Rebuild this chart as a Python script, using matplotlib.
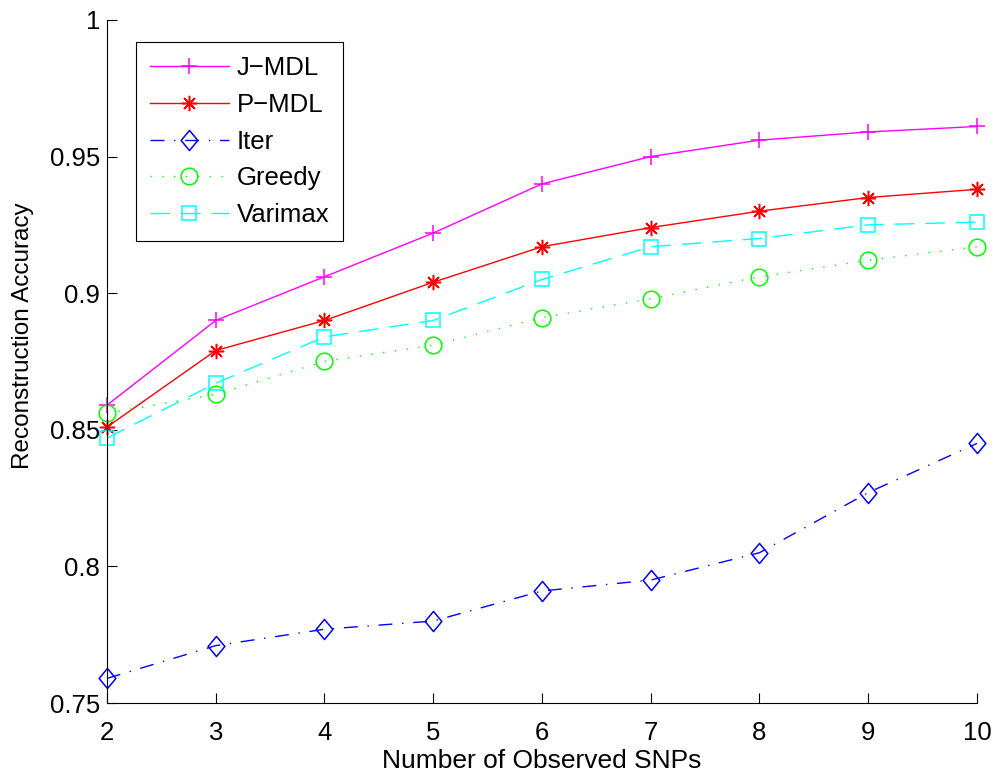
import matplotlib
matplotlib.use("Agg")
import matplotlib.pyplot as plt
from matplotlib.lines import Line2D
from matplotlib.path import Path

plt.rcParams['font.family'] = ['Liberation Sans', 'DejaVu Sans']

snps = [2, 3, 4, 5, 6, 7, 8, 9, 10]
j_mdl = [0.859, 0.890, 0.906, 0.922, 0.940, 0.950, 0.956, 0.959, 0.961]
p_mdl = [0.851, 0.879, 0.890, 0.904, 0.917, 0.924, 0.930, 0.935, 0.938]
iter_ = [0.759, 0.771, 0.777, 0.780, 0.791, 0.795, 0.805, 0.827, 0.845]
greedy = [0.856, 0.863, 0.875, 0.881, 0.891, 0.898, 0.906, 0.912, 0.917]
varimax = [0.847, 0.867, 0.884, 0.890, 0.905, 0.917, 0.920, 0.925, 0.926]

labels = ['J\u2212MDL', 'P\u2212MDL', 'Iter', 'Greedy', 'Varimax']
xticks = [2, 3, 4, 5, 6, 7, 8, 9, 10]
yticks = [0.75, 0.8, 0.85, 0.9, 0.95, 1.0]
ytick_labels = ['0.75', '0.8', '0.85', '0.9', '0.95', '1']

diamond = Path([(0, 1), (0.83, 0), (0, -1), (-0.83, 0), (0, 1)],
               [Path.MOVETO, Path.LINETO, Path.LINETO, Path.LINETO, Path.CLOSEPOLY])

lw = 1.0
styles = [
    dict(color='#ff00ff', linestyle='-', marker='+', markersize=12, markeredgewidth=1.1),
    dict(color='#ff0000', linestyle='-', marker=(8, 2, 0), markersize=11, markeredgewidth=1.1),
    dict(color='#0000ff', linestyle=(0, (10, 7, 1, 7)), marker=diamond, markersize=14.5,
         markerfacecolor='none', markeredgewidth=1.1),
    dict(color='#00ff00', linestyle=(0, (1, 7.5)), marker='o', markersize=12,
         markerfacecolor='none', markeredgewidth=1.1),
    dict(color='#00ffff', linestyle=(0, (14, 8)), marker='s', markersize=9.6,
         markerfacecolor='none', markeredgewidth=1.1),
]
series = [j_mdl, p_mdl, iter_, greedy, varimax]

fig = plt.figure(figsize=(9.97, 7.78), dpi=100)
ax = fig.add_axes([0.1073, 0.0964, 0.8726, 0.878])

handles = []
for ys, st, lab in zip(series, styles, labels):
    h, = ax.plot(snps, ys, lw=lw, clip_on=False, label=lab, **st)
    handles.append(h)

ax.set_xlim(2, 10)
ax.set_ylim(0.75, 1.0)
ax.set_xticks(xticks)
ax.set_yticks(yticks)
ax.set_yticklabels(ytick_labels)
ax.spines['top'].set_visible(False)
ax.spines['right'].set_visible(False)
ax.tick_params(direction='in', length=7, width=0.8, labelsize=18.5)
ax.tick_params(axis='x', pad=13)
ax.tick_params(axis='y', pad=5)
for s in ax.spines.values():
    s.set_linewidth(0.8)

ax.set_xlabel('Number of Observed SNPs', fontsize=19, labelpad=3)
ax.set_ylabel('Reconstruction Accuracy', fontsize=17.5)
ax.yaxis.set_label_coords(-0.084, 0.537)

leg = ax.legend(handles, labels, loc='upper left', bbox_to_anchor=(0.033, 0.968),
                borderaxespad=0, fancybox=False, edgecolor='black', framealpha=1,
                fontsize=18.5, handlelength=3.07, labelspacing=0.5, borderpad=0.55,
                handletextpad=0.31)
leg.get_frame().set_linewidth(0.8)

fig.savefig('out.png', dpi=100)
